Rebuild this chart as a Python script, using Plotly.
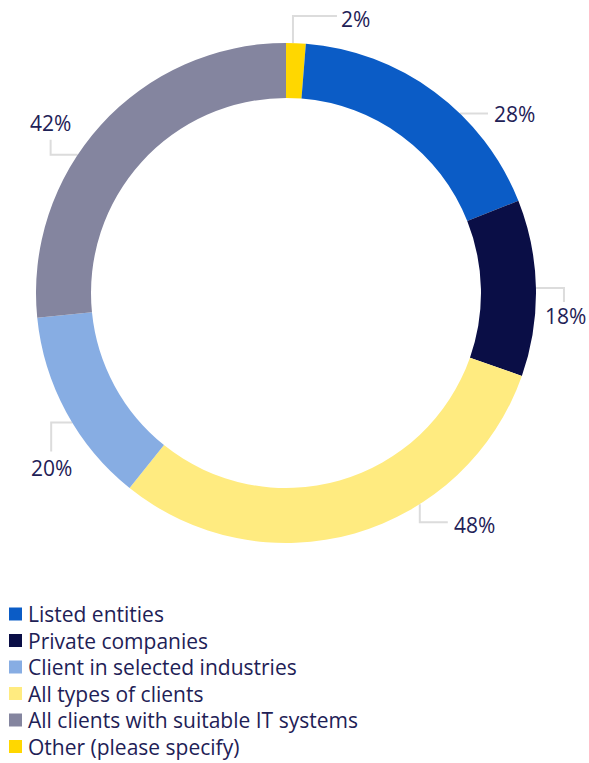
import math
import plotly.graph_objects as go

# ---- data (legend order) ----
categories = [
    "Listed entities",
    "Private companies",
    "Client in selected industries",
    "All types of clients",
    "All clients with suitable IT systems",
    "Other (please specify)",
]
values = [28, 18, 20, 48, 42, 2]
colors = ["#0B5CC6", "#0A0E46", "#87ADE3", "#FFEB80", "#84859F", "#FFD700"]

# order of slices clockwise from 12 o'clock
slice_order = [
    "Other (please specify)",
    "Listed entities",
    "Private companies",
    "All types of clients",
    "Client in selected industries",
    "All clients with suitable IT systems",
]

# ---- layout / style ----
W, H = 589, 763
CX, CY, R = 286, 293, 250
HOLE = 0.78
TEXT = "#1E2156"
LEADER = "#DCDCDC"
FONT = "Open Sans"
FS = 21
LEG_X, LEG_Y0, LEG_STEP = 15.5, 614, 26.5

# leader style per slice: anchor fraction within slice, elbow segments, label centre offset from line end
label_style = {
    "Other (please specify)": dict(frac=0.35, segs=[(0, -27), (44, 0)], dx=3, dy=3, xa="left"),
    "Listed entities": dict(frac=0.62, segs=[(28, 0)], dx=5, dy=0, xa="left"),
    "Private companies": dict(frac=0.5, segs=[(28, 0), (0, 14)], dx=2, dy=14, xa="center"),
    "All types of clients": dict(frac=0.35, segs=[(0, 18), (28, 0)], dx=5, dy=3, xa="left"),
    "Client in selected industries": dict(frac=0.44, segs=[(-21, 0), (0, 29)], dx=0, dy=16, xa="center"),
    "All clients with suitable IT systems": dict(frac=0.41, segs=[(-27, 0), (0, -15)], dx=0, dy=-17, xa="center"),
}

val = dict(zip(categories, values))
col = dict(zip(categories, colors))

fig = go.Figure()

ordered_vals = [val[c] for c in slice_order]
fig.add_trace(go.Pie(
    labels=slice_order,
    values=ordered_vals,
    marker=dict(colors=[col[c] for c in slice_order], line=dict(width=0)),
    hole=HOLE,
    sort=False,
    direction="clockwise",
    rotation=0,
    textinfo="none",
    hoverinfo="skip",
    showlegend=False,
    domain=dict(x=[(CX - R) / W, (CX + R) / W], y=[1 - (CY + R) / H, 1 - (CY - R) / H]),
))

# leader lines + labels computed from slice angles
total = sum(ordered_vals)
start = 0.0
annotations = []
for c in slice_order:
    span = 360.0 * val[c] / total
    st = label_style[c]
    ang = math.radians(start + span * st["frac"])
    x0 = CX + R * math.sin(ang)
    y0 = CY - R * math.cos(ang)
    xs, ys = [x0], [y0]
    for sx, sy in st["segs"]:
        xs.append(xs[-1] + sx)
        ys.append(ys[-1] + sy)
    fig.add_trace(go.Scatter(x=xs, y=ys, mode="lines", line=dict(color=LEADER, width=2),
                             hoverinfo="skip", showlegend=False))
    annotations.append(dict(x=xs[-1] + st["dx"], y=ys[-1] + st["dy"], xref="x", yref="y",
                            text=f"{val[c]}%", showarrow=False, xanchor=st["xa"], yanchor="middle",
                            borderpad=0, font=dict(family=FONT, size=FS, color=TEXT)))
    start += span

# legend drawn as swatches + text, in legend order
leg_y = [LEG_Y0 + i * LEG_STEP for i in range(len(categories))]
fig.add_trace(go.Scatter(x=[LEG_X] * len(categories), y=leg_y, mode="markers",
                         marker=dict(symbol="square", size=13, color=colors, line=dict(width=0)),
                         hoverinfo="skip", showlegend=False))
for c, y in zip(categories, leg_y):
    annotations.append(dict(x=27, y=y, xref="x", yref="y", text=c, showarrow=False,
                            xanchor="left", yanchor="middle", borderpad=0,
                            font=dict(family=FONT, size=FS, color=TEXT)))

fig.update_layout(
    width=W, height=H,
    margin=dict(l=0, r=0, t=0, b=0, autoexpand=False),
    paper_bgcolor="white", plot_bgcolor="white",
    xaxis=dict(range=[0, W], visible=False, fixedrange=True),
    yaxis=dict(range=[H, 0], visible=False, fixedrange=True),
    annotations=annotations,
    showlegend=False,
    hovermode=False,
    font=dict(family=FONT, color=TEXT),
)

fig.write_html("out.html", config={"displayModeBar": False, "staticPlot": True},
               post_script="document.body.style.margin='0';document.body.style.padding='0';")
